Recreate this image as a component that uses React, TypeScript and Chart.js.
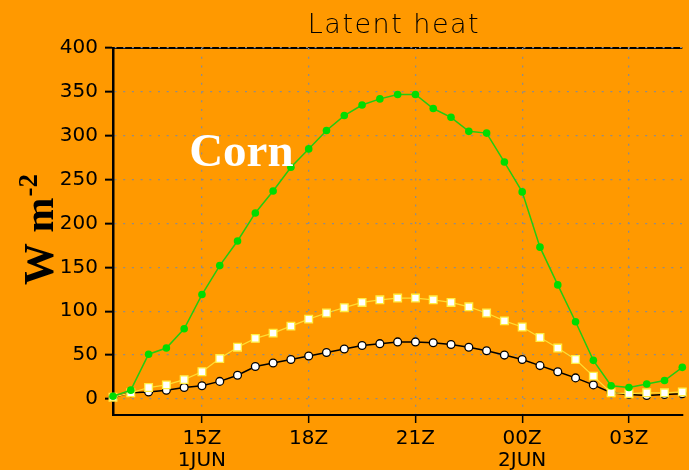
import React, { useEffect, useRef } from 'react';
import { Chart, registerables } from 'chart.js';

Chart.register(...registerables);

// Time axis: hours since 1 JUN 00Z, every 30 minutes
const hours = [12.5, 13, 13.5, 14, 14.5, 15, 15.5, 16, 16.5, 17, 17.5, 18, 18.5, 19, 19.5, 20, 20.5, 21, 21.5, 22, 22.5, 23, 23.5, 24, 24.5, 25, 25.5, 26, 26.5, 27, 27.5, 28, 28.5];

// Latent heat flux (W m-2)
const cornLE = [3, 10, 51, 58, 80, 119, 152, 180, 212, 237, 264, 285, 306, 323, 335, 342, 347, 347, 331, 321, 305, 303, 270, 236, 173, 130, 88, 44, 15, 13, 17, 21, 36];
const squareLE = [2, 7, 13, 16, 22, 31, 46, 59, 69, 75, 83, 91, 98, 104, 110, 113, 115, 115, 113, 110, 105, 98, 89, 82, 70, 58, 45, 26, 7, 6, 7, 7, 8];
const circleLE = [2, 7, 8, 10, 13, 15, 20, 27, 37, 41, 45, 49, 53, 57, 61, 63, 65, 65, 64, 62, 59, 55, 50, 45, 38, 31, 24, 16, 7, 5, 4, 5, 6];

const xTickHours = [15, 18, 21, 24, 27];
const xTickLabels: (string | string[])[] = [['15Z', '1JUN'], '18Z', '21Z', ['00Z', '2JUN'], '03Z'];
const yTickValues = [0, 50, 100, 150, 200, 250, 300, 350, 400];

const titleText = 'Latent heat';
const seriesLabel = 'Corn';
const unitMain = 'W m';
const unitSup = '-2';

const ORANGE = '#ff9900';

const textPlugin = {
  id: 'textPlugin',
  beforeDraw(chart: any) {
    const { ctx, chartArea } = chart;
    ctx.save();
    ctx.strokeStyle = '#000';
    ctx.lineWidth = 2;
    ctx.beginPath();
    ctx.moveTo(chartArea.left, chartArea.top);
    ctx.lineTo(chartArea.right, chartArea.top);
    ctx.stroke();
    ctx.restore();
  },
  afterDraw(chart: any) {
    const { ctx, scales } = chart;
    ctx.save();
    // Title
    ctx.fillStyle = '#000';
    ctx.font = '300 27px "DejaVu Sans"';
    (ctx as any).letterSpacing = '1.5px';
    ctx.textAlign = 'center';
    ctx.textBaseline = 'alphabetic';
    ctx.fillText(titleText, 394, 33);
    (ctx as any).letterSpacing = '0px';

    // Corn label, placed in data coordinates
    ctx.fillStyle = '#ffffff';
    ctx.font = 'bold 47px "Liberation Serif"';
    ctx.textAlign = 'left';
    const cx = scales.x.getPixelForValue(14.64);
    const cy = scales.y.getPixelForValue(266);
    ctx.fillText(seriesLabel, cx, cy);

    // Y axis unit label (rotated)
    ctx.fillStyle = '#000';
    ctx.translate(53, 285);
    ctx.rotate(-Math.PI / 2);
    ctx.font = 'bold 42px "Liberation Serif"';
    ctx.textAlign = 'left';
    ctx.fillText(unitMain, 0, 0);
    const w = ctx.measureText(unitMain).width;
    ctx.font = 'bold 27px "Liberation Serif"';
    ctx.fillText(unitSup, w + 1, -16);
    ctx.restore();
  },
};

export default function App() {
  const canvasRef = useRef<HTMLCanvasElement | null>(null);

  useEffect(() => {
    if (!canvasRef.current) return;
    const mk = (arr: number[]) => hours.map((h, i) => ({ x: h, y: arr[i] }));
    const tickFont = { family: '"DejaVu Sans"', size: 20, lineHeight: 1.1 };
    const chart = new Chart(canvasRef.current, {
      type: 'line',
      data: {
        datasets: [
          {
            label: 'Corn',
            data: mk(cornLE),
            borderColor: '#22cc11',
            borderWidth: 1.5,
            pointRadius: 3.8,
            pointBackgroundColor: '#00dd00',
            pointBorderColor: '#00dd00',
            pointBorderWidth: 0,
            pointStyle: 'circle',
            clip: false as any,
            tension: 0,
          },
          {
            label: 'squares',
            data: mk(squareLE),
            borderColor: '#ffdd33',
            borderWidth: 1.2,
            pointRadius: 5.4,
            pointStyle: 'rect',
            pointBackgroundColor: '#ffffff',
            pointBorderColor: '#ffee44',
            pointBorderWidth: 1.3,
            clip: false as any,
            tension: 0,
          },
          {
            label: 'circles',
            data: mk(circleLE),
            borderColor: '#000000',
            borderWidth: 1.5,
            pointRadius: 3.9,
            pointStyle: 'circle',
            pointBackgroundColor: '#ffffff',
            pointBorderColor: '#000000',
            pointBorderWidth: 1.3,
            clip: false as any,
            tension: 0,
          },
        ],
      },
      options: {
        animation: false,
        responsive: false,
        maintainAspectRatio: false,
        layout: { padding: { top: 48, left: 0, right: 0, bottom: 0 } },
        plugins: {
          legend: { display: false },
          tooltip: { enabled: false },
          title: { display: false },
        },
        scales: {
          x: {
            type: 'linear',
            min: 12.5,
            max: 28.5,
            afterBuildTicks: (s: any) => {
              s.ticks = xTickHours.map((v) => ({ value: v }));
            },
            afterFit: (s: any) => {
              s.height = 55;
            },
            grid: {
              color: '#8c8c8c',
              lineWidth: 1.3,
              tickLength: 8,
              tickColor: '#000',
              tickWidth: 1.5,
            },
            border: { color: '#000', width: 2, dash: [2, 6.7] },
            ticks: {
              autoSkip: false,
              maxRotation: 0,
              color: '#000',
              font: tickFont,
              padding: 5,
              callback: (_v: any, i: number) => xTickLabels[i],
            },
          },
          y: {
            type: 'linear',
            min: -18.3,
            max: 400,
            afterBuildTicks: (s: any) => {
              s.ticks = yTickValues.map((v) => ({ value: v }));
            },
            afterFit: (s: any) => {
              s.width = 113;
            },
            grid: {
              color: '#8c8c8c',
              lineWidth: 1.3,
              tickLength: 8,
              tickColor: '#000',
              tickWidth: 2,
            },
            border: { color: '#000', width: 2.5, dash: [2, 6.7] },
            ticks: {
              color: '#000',
              font: tickFont,
              padding: 7,
              callback: (v: any) => String(v),
            },
          },
        },
      } as any,
      plugins: [textPlugin],
    });
    return () => chart.destroy();
  }, []);

  return (
    <div
      style={{
        position: 'fixed',
        left: 0,
        top: 0,
        width: 689,
        height: 470,
        background: ORANGE,
        overflow: 'hidden',
      }}
    >
      <canvas ref={canvasRef} width={689} height={470} style={{ display: 'block', width: 689, height: 470 }} />
    </div>
  );
}
